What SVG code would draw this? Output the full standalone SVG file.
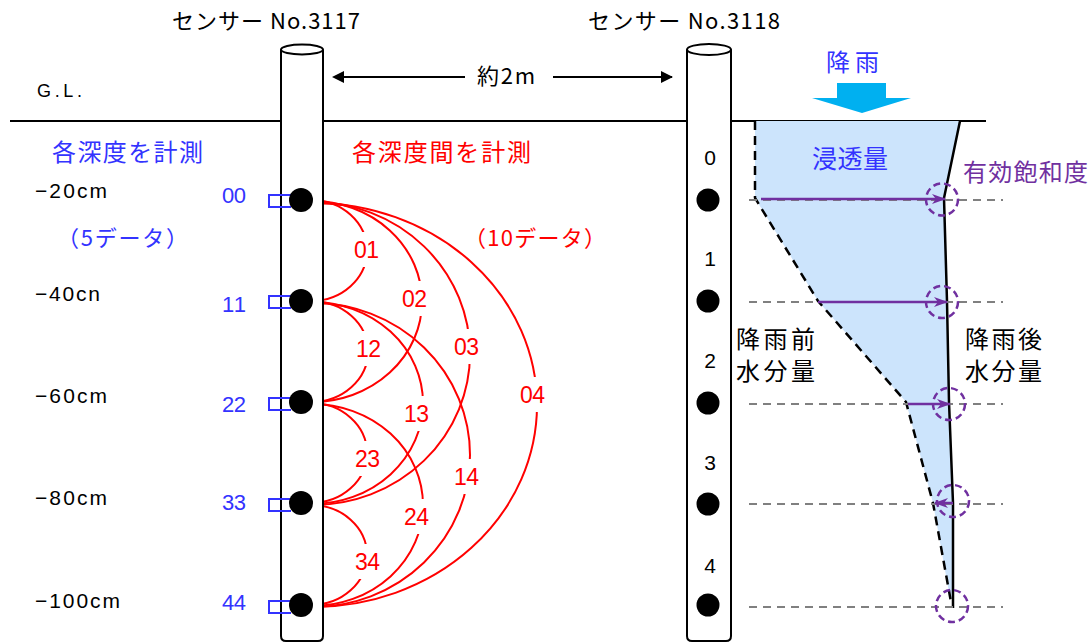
<svg xmlns="http://www.w3.org/2000/svg" width="1092" height="643" viewBox="0 0 1092 643">
<style>
.t{font-family:"Liberation Sans","Noto Sans CJK JP",Arial,sans-serif;fill:#000}
.j{font-family:"Noto Sans CJK JP","Liberation Sans",sans-serif}
.blue{fill:#3333FF}
.red{fill:#FF0000}
.pur{fill:#7030A0}
.pipe{fill:#fff;stroke:#000;stroke-width:2}
.arc{fill:none;stroke:#FF0000;stroke-width:2}
.lbl{fill:#fff;stroke:none}
.brk{fill:none;stroke:#3333FF;stroke-width:2}
.gd{fill:none;stroke:#808080;stroke-width:2;stroke-dasharray:8 6}
.pa{fill:none;stroke:#7030A0;stroke-width:2.5}
.pc{fill:none;stroke:#7030A0;stroke-width:2.5;stroke-dasharray:7 4}
</style>
<defs>
<marker id="ah" viewBox="0 0 12 12" refX="11" refY="6" markerWidth="12" markerHeight="12" markerUnits="userSpaceOnUse" orient="auto">
<path d="M0,0 L12,6 L0,12 z" fill="#000"/>
</marker>
<marker id="pah" viewBox="0 0 14 10" refX="13" refY="5" markerWidth="14" markerHeight="10" markerUnits="userSpaceOnUse" orient="auto">
<path d="M0,0 L14,5 L0,10 L4,5 z" fill="#7030A0"/>
</marker>
</defs>

<g id="ground">
<line x1="10" y1="121" x2="986" y2="121" stroke="#000" stroke-width="2"/>
<text class="t" x="37" y="97" font-size="18" textLength="45" lengthAdjust="spacing">G.L.</text>
</g>

<g id="profile">
<polygon points="755,121 960,121 944,198 947,301 949,402 953,503 953,598 950,598 933,503 906,402 818,301 755,198" fill="#CCE4FC"/>
<polyline points="755,121 755,198 818,301 906,402 933,503 951,602" fill="none" stroke="#000" stroke-width="2.5" stroke-dasharray="9 6"/>
<polyline points="960,121 944,198 947,301 949,402 953,503 953,608" fill="none" stroke="#000" stroke-width="2.5"/>
<line class="gd" x1="749" y1="200" x2="1003" y2="200"/>
<line class="gd" x1="749" y1="302" x2="1003" y2="302"/>
<line class="gd" x1="749" y1="404" x2="1003" y2="404"/>
<line class="gd" x1="749" y1="504" x2="1003" y2="504"/>
<line class="gd" x1="749" y1="607" x2="1003" y2="607"/>
</g>

<g id="rain">
<polygon points="837,83 886,83 886,98 911,98 862,113 812,98 837,98" fill="#00B0F0"/>
<text class="j blue" x="826" y="71" font-size="24" textLength="53" lengthAdjust="spacing">降雨</text>
</g>

<g id="labels-right">
<text class="j blue" x="812" y="168" font-size="25" textLength="76" lengthAdjust="spacing">浸透量</text>
<text class="j pur" x="963" y="181" font-size="24" textLength="125" lengthAdjust="spacing">有効飽和度</text>
<text class="j" x="736" y="348" font-size="24" textLength="79" lengthAdjust="spacing">降雨前</text>
<text class="j" x="736" y="380" font-size="24" textLength="79" lengthAdjust="spacing">水分量</text>
<text class="j" x="965" y="348" font-size="24" textLength="77" lengthAdjust="spacing">降雨後</text>
<text class="j" x="965" y="380" font-size="24" textLength="77" lengthAdjust="spacing">水分量</text>
</g>

<g id="connectors">
<line x1="344" y1="77" x2="465" y2="77" stroke="#000" stroke-width="2"/>
<path d="M344,71 L332,77 L344,83 z" fill="#000"/>
<line x1="553" y1="77" x2="672" y2="77" stroke="#000" stroke-width="2" marker-end="url(#ah)"/>
<g id="arcs">
<path class="arc" d="M311,200 A56,50.5 0 0 1 311,301"/>
<path class="arc" d="M312,201 A110,100.5 0 0 1 312,402"/>
<path class="arc" d="M313,202 A157,151.5 0 0 1 313,505"/>
<path class="arc" d="M313,203 A224,202 0 0 1 313,607"/>
<path class="arc" d="M311,301 A57,50.5 0 0 1 311,402"/>
<path class="arc" d="M312,302 A111,101 0 0 1 312,504"/>
<path class="arc" d="M313,303 A157,152 0 0 1 313,607"/>
<path class="arc" d="M311,403 A56,50 0 0 1 311,503"/>
<path class="arc" d="M312,404 A111,101 0 0 1 312,606"/>
<path class="arc" d="M311,505 A56,50 0 0 1 311,605"/>
</g>
<g id="purple-arrows">
<line class="pa" x1="761" y1="199" x2="945" y2="199" marker-end="url(#pah)"/>
<line class="pa" x1="818" y1="302" x2="947" y2="302" marker-end="url(#pah)"/>
<line class="pa" x1="908" y1="404" x2="950" y2="404" marker-end="url(#pah)"/>
<line class="pa" x1="953" y1="503" x2="935" y2="503" marker-end="url(#pah)"/>
</g>
</g>

<g id="circles">
<circle class="pc" cx="942" cy="199.5" r="16"/>
<circle class="pc" cx="942" cy="302" r="16"/>
<circle class="pc" cx="949" cy="404" r="16"/>
<circle class="pc" cx="953" cy="501" r="16"/>
<circle class="pc" cx="952" cy="606" r="16"/>
</g>

<g id="arc-labels" font-size="23">
<rect class="lbl" x="352" y="232" width="30" height="35"/><text class="t red" x="354" y="258" textLength="25">01</text>
<rect class="lbl" x="400" y="281" width="30" height="35"/><text class="t red" x="402" y="307" textLength="25">02</text>
<rect class="lbl" x="354" y="331" width="30" height="35"/><text class="t red" x="356" y="357" textLength="25">12</text>
<rect class="lbl" x="452" y="329" width="30" height="35"/><text class="t red" x="454" y="355" textLength="25">03</text>
<rect class="lbl" x="518" y="377" width="30" height="35"/><text class="t red" x="520" y="403" textLength="25">04</text>
<rect class="lbl" x="402" y="396" width="30" height="35"/><text class="t red" x="404" y="422" textLength="25">13</text>
<rect class="lbl" x="353" y="441" width="30" height="35"/><text class="t red" x="355" y="467" textLength="25">23</text>
<rect class="lbl" x="452" y="459" width="30" height="35"/><text class="t red" x="454" y="485" textLength="25">14</text>
<rect class="lbl" x="402" y="499" width="30" height="35"/><text class="t red" x="404" y="525" textLength="25">24</text>
<rect class="lbl" x="353" y="544" width="30" height="35"/><text class="t red" x="355" y="570" textLength="25">34</text>
</g>

<g id="sensor-3117">
<path class="pipe" d="M281,49.5 V636 Q281,641 286,641 H318 Q323,641 323,636 V49.5"/>
<ellipse class="pipe" cx="302" cy="49.5" rx="21" ry="5"/>
<path class="brk" d="M291,195 H269 V207 H291"/>
<path class="brk" d="M291,296 H269 V308 H291"/>
<path class="brk" d="M291,398 H269 V410 H291"/>
<path class="brk" d="M291,499 H269 V511 H291"/>
<path class="brk" d="M291,601 H269 V613 H291"/>
<circle cx="301" cy="200" r="12"/>
<circle cx="301" cy="301" r="12"/>
<circle cx="301" cy="402" r="12"/>
<circle cx="301" cy="503" r="12"/>
<circle cx="301" cy="605" r="12"/>
<text class="j" x="172" y="29" font-size="22" textLength="188" lengthAdjust="spacing">センサー No.3117</text>
</g>

<g id="sensor-3118">
<path class="pipe" d="M687,49.5 V636 Q687,641 692,641 H726 Q731,641 731,636 V49.5"/>
<ellipse class="pipe" cx="709" cy="49.5" rx="22" ry="5.5"/>
<circle cx="708" cy="200" r="11.5"/>
<circle cx="708" cy="301" r="11.5"/>
<circle cx="708" cy="403" r="11.5"/>
<circle cx="708" cy="504" r="11.5"/>
<circle cx="708" cy="605" r="11.5"/>
<g font-size="21" text-anchor="middle">
<text class="t" x="710" y="165">0</text>
<text class="t" x="710" y="266">1</text>
<text class="t" x="710" y="368">2</text>
<text class="t" x="710" y="470">3</text>
<text class="t" x="710" y="573">4</text>
</g>
<text class="j" x="588" y="29" font-size="22" textLength="192" lengthAdjust="spacing">センサー No.3118</text>
</g>

<g id="distance">
<text class="j" x="477" y="84" font-size="22" textLength="58" lengthAdjust="spacing">約2m</text>
</g>

<g id="depths" font-size="21">
<text class="t" x="35" y="198" textLength="72" lengthAdjust="spacing">−20cm</text>
<text class="t" x="35" y="301" textLength="65" lengthAdjust="spacing">−40cn</text>
<text class="t" x="35" y="403" textLength="72" lengthAdjust="spacing">−60cm</text>
<text class="t" x="35" y="505" textLength="72" lengthAdjust="spacing">−80cm</text>
<text class="t" x="35" y="608" textLength="85" lengthAdjust="spacing">−100cm</text>
</g>
<g id="ids" font-size="22">
<text class="t blue" x="222" y="203" textLength="24">00</text>
<text class="t blue" x="222" y="312" textLength="24">11</text>
<text class="t blue" x="222" y="412" textLength="24">22</text>
<text class="t blue" x="222" y="510" textLength="24">33</text>
<text class="t blue" x="222" y="610" textLength="24">44</text>
</g>
<g id="headers">
<text class="j blue" x="52" y="161" font-size="24" textLength="151" lengthAdjust="spacing">各深度を計測</text>
<text class="j blue" x="57" y="246" font-size="22" textLength="131" lengthAdjust="spacing">（5データ）</text>
<text class="j red" x="352" y="161" font-size="24" textLength="179" lengthAdjust="spacing">各深度間を計測</text>
<text class="j red" x="464" y="246" font-size="22" textLength="142" lengthAdjust="spacing">（10データ）</text>
</g>
</svg>
